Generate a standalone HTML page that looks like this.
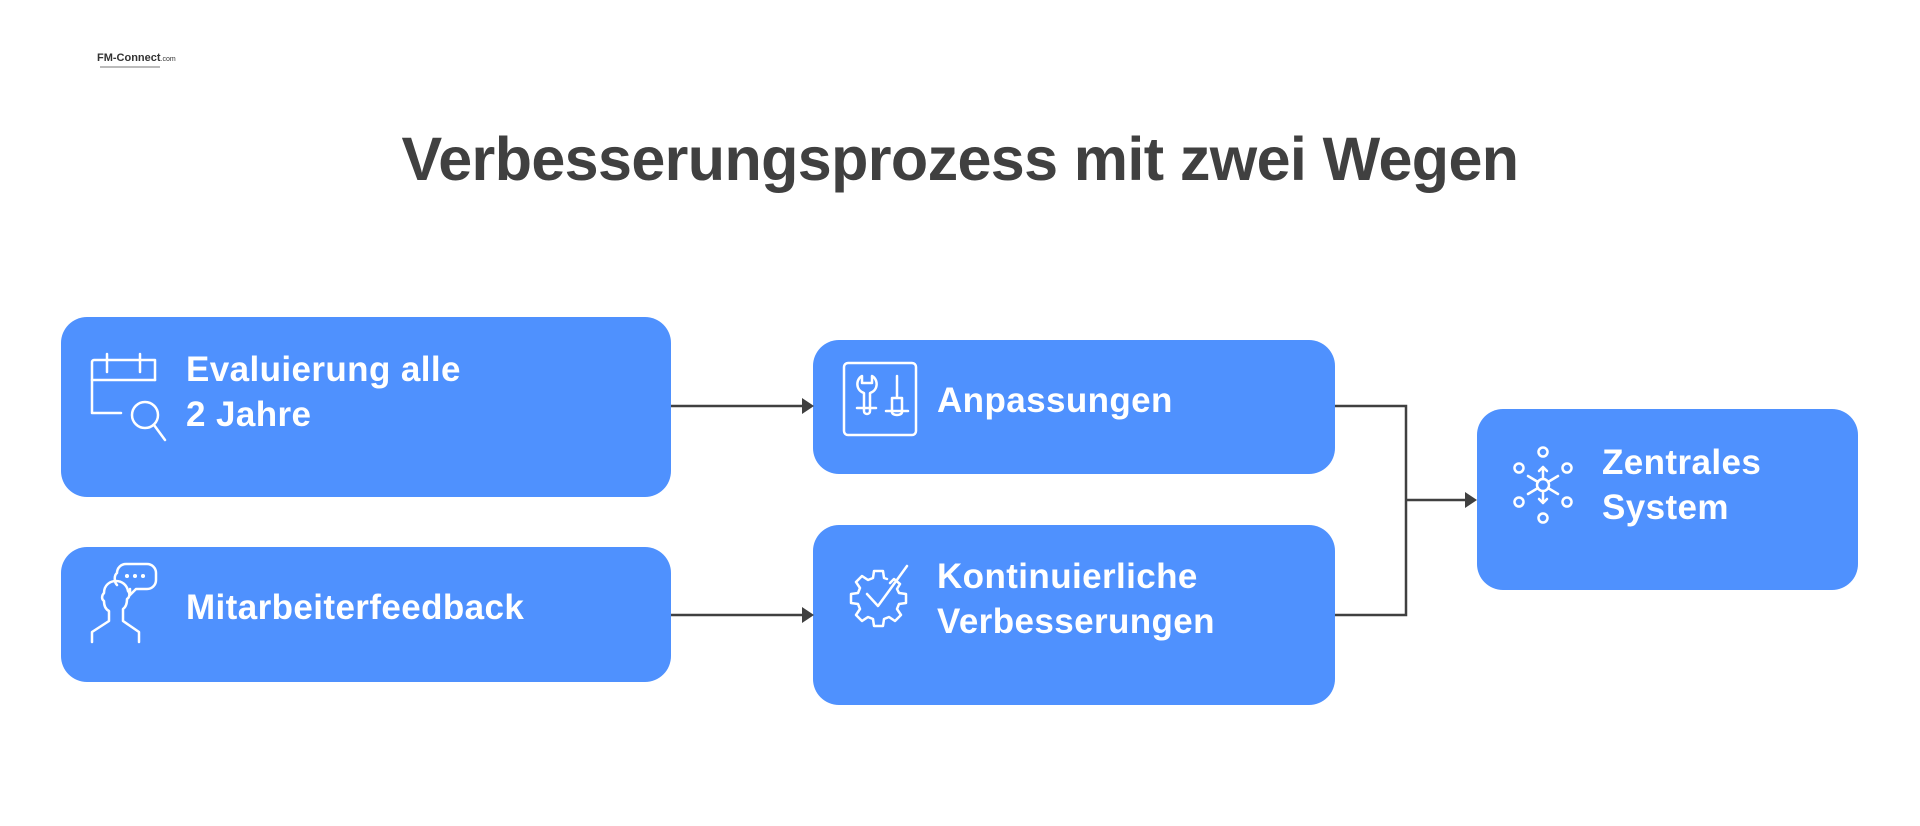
<!DOCTYPE html>
<html><head><meta charset="utf-8"><style>
html,body{margin:0;padding:0;background:#fff;}
body{width:1920px;height:826px;position:relative;overflow:hidden;font-family:"Liberation Sans",Arial,sans-serif;}
.box{position:absolute;background:#4F91FE;border-radius:26px;}
.t{position:absolute;color:#fff;font-weight:bold;font-size:35px;line-height:45px;white-space:nowrap;letter-spacing:0.4px;}
h1{position:absolute;left:0;width:1920px;top:124px;margin:0;text-align:center;font-size:61px;font-weight:bold;color:#404040;letter-spacing:-0.6px;line-height:70px;}
svg{position:absolute;left:0;top:0;}
</style></head><body>
<h1>Verbesserungsprozess mit zwei Wegen</h1>
<div style="position:absolute;left:97px;top:52px;font-size:11px;font-weight:bold;color:#333;">FM-Connect<span style="font-size:7px;font-weight:normal">.com</span></div>
<div style="position:absolute;left:100px;top:66px;width:60px;height:2px;background:#bbb;"></div>

<div class="box" style="left:61px;top:317px;width:610px;height:180px;"></div>
<div class="box" style="left:61px;top:547px;width:610px;height:135px;"></div>
<div class="box" style="left:813px;top:340px;width:522px;height:134px;"></div>
<div class="box" style="left:813px;top:525px;width:522px;height:180px;"></div>
<div class="box" style="left:1477px;top:409px;width:381px;height:181px;"></div>

<div class="t" style="left:186px;top:347px;">Evaluierung alle<br>2 Jahre</div>
<div class="t" style="left:186px;top:585px;">Mitarbeiterfeedback</div>
<div class="t" style="left:937px;top:378px;">Anpassungen</div>
<div class="t" style="left:937px;top:554px;">Kontinuierliche<br>Verbesserungen</div>
<div class="t" style="left:1602px;top:440px;">Zentrales<br>System</div>

<svg width="1920" height="826">
<g stroke="#404040" stroke-width="2.5" fill="none">
<path d="M671 406H803"/><path d="M671 615H803"/>
<path d="M1335 406H1406V615H1335"/><path d="M1406 500H1467"/>
</g>
<g fill="#404040">
<path d="M814 406l-12-8v16z"/><path d="M814 615l-12-8v16z"/><path d="M1477 500l-12-8v16z"/>
</g>
<g stroke="#fff" stroke-width="2.5" fill="none" stroke-linecap="round" stroke-linejoin="round">
<path d="M121 413H92V362a2 2 0 0 1 2-2H155V380"/><path d="M92 380H155"/><path d="M107 354V372M140 354V372"/>
<circle cx="145" cy="415" r="13"/><path d="M154 425L165 440"/>
<path d="M92 642V632l17-11V611c-4-2-5-6-5-10-3-2-2-6 0-8 0-8 6-12 12-12s11 4 12 10c2 2 2 6-1 8 0 4-1 8-4 10v12l16 11V642"/>
<path d="M117 585c-3-3-3-10 0-12 0-5 4-9 9-9h21c5 0 9 4 9 9v7c0 5-4 9-9 9h-11l-6 6v-6"/>
<circle cx="127" cy="576" r="0.8" fill="#fff"/><circle cx="135" cy="576" r="0.8" fill="#fff"/><circle cx="143" cy="576" r="0.8" fill="#fff"/>
<rect x="844" y="363" width="72" height="72" rx="4"/>
<path d="M862 376c-6 3-7 14 2 17v18c0 4 6 4 6 0v-18c9-3 8-14 2-17v7h-10z"/><path d="M857 408H876"/>
<path d="M897 376V398M892 398h10v14c0 4-10 4-10 0z"/><path d="M886 411H908"/>
<path d="M867 594l11 12 29-40"/>
<path d="M890 583l4-4 6 5-3 5 2 4 7 1v9l-7 1-2 5 4 6-6 6-6-4-5 2-1 7h-9l-1-7-5-2-6 4-6-6 4-6-2-5-7-1v-9l7-1 2-5-4-6 6-6 6 4 5-2 1-7h9l1 7 3 1"/>
<circle cx="1543" cy="485" r="6"/>
<circle cx="1543" cy="452" r="4.5"/><circle cx="1543" cy="518" r="4.5"/>
<circle cx="1519" cy="468" r="4.5"/><circle cx="1567" cy="468" r="4.5"/>
<circle cx="1519" cy="502" r="4.5"/><circle cx="1567" cy="502" r="4.5"/>
<path d="M1543 479V467M1539 471l4-4 4 4M1543 491V503M1539 499l4 4 4-4"/>
<path d="M1538 482l-10-6M1548 482l10-6M1538 488l-10 6M1548 488l10 6"/>
</g>
</svg>
</body></html>
